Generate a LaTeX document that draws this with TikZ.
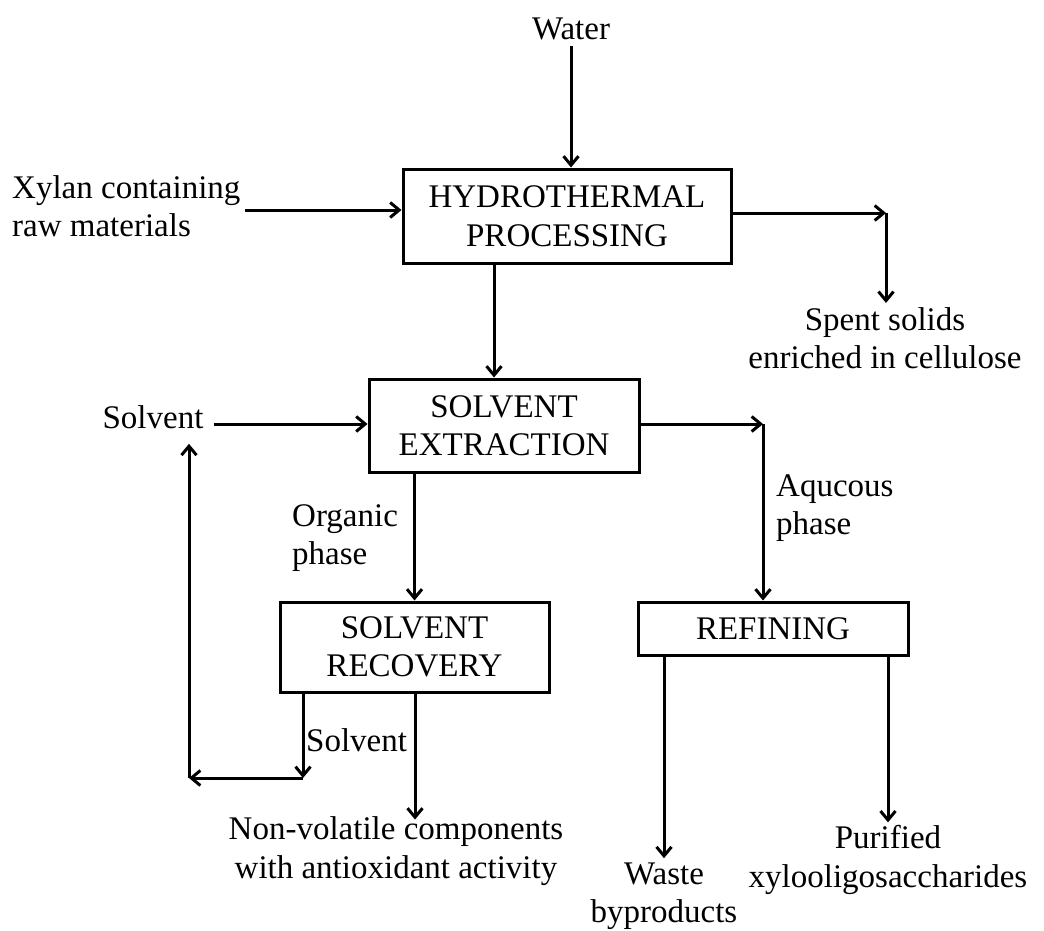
\documentclass[tikz,border=0pt]{standalone}
\usepackage{fontspec}
\setmainfont{Liberation Serif}
\usetikzlibrary{positioning,arrows.meta}

\tikzset{
  procbox/.style={draw, line width=3pt, align=center, inner sep=0pt},
  lbl/.style={align=center, inner sep=0pt},
  lbll/.style={align=left, inner sep=0pt, anchor=west},
  arr/.style={line width=3pt, -{Straight Barb[length=9pt, width=15pt, line width=3pt]}},
}

\begin{document}
\begin{tikzpicture}[x=1pt, y=-1pt, font=\fontsize{33}{38.5}\selectfont]
        \useasboundingbox (0,0) rectangle (1044,931);
        % process boxes
        \node[procbox, minimum width=328pt, minimum height=94pt] (hp) at (567,216) {HYDROTHERMAL\\PROCESSING};
        \node[procbox, minimum width=270pt, minimum height=93pt] (se) at (504,425.5) {SOLVENT\\EXTRACTION};
        \node[procbox, minimum width=269pt, minimum height=90pt] (sr) at (414.5,647) {SOLVENT\\RECOVERY};
        \node[procbox, minimum width=270pt, minimum height=53pt] (rf) at (773,628.5) {REFINING};
        % inputs and outputs
        \node[lbl] (water) at (571,29) {Water};
        \node[lbll] (xylan) at (12,206) {Xylan containing\\raw materials};
        \node[lbl] (spent) at (885,338) {Spent solids\\enriched in cellulose};
        \node[lbl] (solv) at (153,417) {Solvent};
        \node[lbll] (org) at (292,538) {Organic\\phase};
        \node[lbll] (aq) at (776,508) {Aqucous\\phase};
        \node[lbll] (solv2) at (306,740) {Solvent};
        \node[lbl] (nonvol) at (396,851) {Non-volatile components\\with antioxidant activity};
        \node[lbl] (waste) at (664,896) {Waste\\byproducts};
        \node[lbl] (pure) at (888,860) {Purified\\xylooligosaccharides};
        % corners
        \coordinate (c1) at (886,213);
        \coordinate (c2) at (763,424);
        \coordinate (r1) at (303,778);
        \coordinate (r2) at (189,778);
        % connectors
        \draw[arr] ([yshift=-6pt]water.south) -- (water.south |- hp.north);
        \draw[arr] ([xshift=4pt,yshift=-4pt]xylan.east) -- ([yshift=-4pt]xylan.east -| hp.west);
        \draw[arr] (hp.east |- c1) -- (c1);
        \draw[arr] (c1) -- ([yshift=4pt]c1 |- spent.north);
        \draw[arr] ([xshift=-10pt]se.north |- hp.south) -- ([xshift=-10pt]se.north);
        \draw[arr] ([xshift=10pt,yshift=-7pt]solv.east) -- ([yshift=-7pt]solv.east -| se.west);
        \draw[arr] (se.east |- c2) -- (c2);
        \draw[arr] (c2) -- (c2 |- rf.north);
        \draw[arr] (sr.north |- se.south) -- (sr.north);
        \draw[arr] (r1 |- sr.south) -- (r1);
        \draw[arr] (r1) -- (r2);
        \draw[arr] (r2) -- ([yshift=-15pt]r2 |- solv.south);
        \draw[arr] ([xshift=19pt]nonvol.north |- sr.south) -- ([xshift=19pt,yshift=-3pt]nonvol.north);
        \draw[arr] (waste.north |- rf.south) -- ([yshift=4pt]waste.north);
        \draw[arr] (pure.north |- rf.south) -- ([yshift=3pt]pure.north);
      \end{tikzpicture}
\end{document}
